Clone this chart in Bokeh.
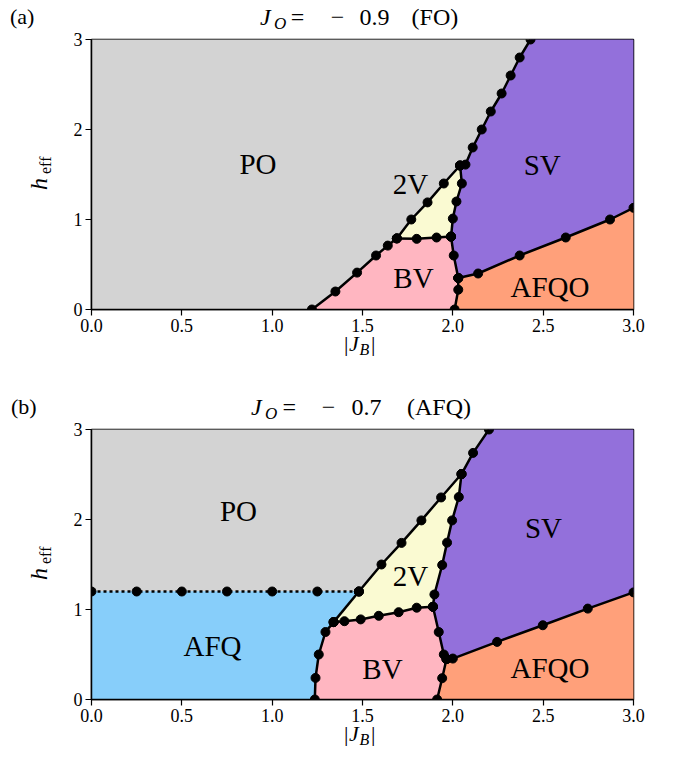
import math
from bokeh.plotting import figure
from bokeh.models import Range1d, FixedTicker, NumeralTickFormatter, Label, Div
from bokeh.layouts import column, row
from bokeh.embed import file_html
from bokeh.resources import INLINE

# ---------------- data: panel (a)  J_O = -0.9 (FO) ----------------
a_po_bv_J = [1.22, 1.35, 1.47, 1.575, 1.64, 1.69]
a_po_bv_h = [0.00, 0.20, 0.41, 0.60, 0.71, 0.79]
a_po_2v_J = [1.69, 1.77, 1.86, 1.95, 2.04]
a_po_2v_h = [0.79, 1.00, 1.19, 1.40, 1.60]
a_po_sv_J = [2.04, 2.07, 2.11, 2.16, 2.21, 2.27, 2.32, 2.37, 2.43]
a_po_sv_h = [1.60, 1.61, 1.80, 2.00, 2.20, 2.40, 2.60, 2.80, 3.00]
a_bv_2v_J = [1.69, 1.80, 1.91, 1.99]
a_bv_2v_h = [0.79, 0.785, 0.80, 0.81]
a_sv_2v_J = [2.04, 2.05, 2.02, 2.00, 1.99]
a_sv_2v_h = [1.60, 1.40, 1.20, 1.01, 0.81]
a_sv_bv_J = [1.99, 2.005, 2.03]
a_sv_bv_h = [0.81, 0.60, 0.35]
a_bv_afqo_J = [2.03, 2.03, 2.01]
a_bv_afqo_h = [0.35, 0.22, 0.00]
a_sv_afqo_J = [2.03, 2.14, 2.37, 2.625, 2.87, 3.00]
a_sv_afqo_h = [0.35, 0.40, 0.60, 0.80, 1.00, 1.13]

# ---------------- data: panel (b)  J_O = -0.7 (AFQ) ----------------
b_po_afq_J = [0.00, 0.25, 0.50, 0.75, 1.00, 1.25, 1.48]
b_po_afq_h = [1.20, 1.20, 1.20, 1.20, 1.20, 1.20, 1.20]
b_afq_2v_J = [1.48, 1.34]
b_afq_2v_h = [1.20, 0.86]
b_po_2v_J = [1.48, 1.605, 1.716, 1.826, 1.935, 2.048]
b_po_2v_h = [1.20, 1.50, 1.74, 1.99, 2.245, 2.505]
b_po_sv_J = [2.048, 2.112, 2.20]
b_po_sv_h = [2.505, 2.74, 3.00]
b_afq_bv_J = [1.34, 1.295, 1.258, 1.24, 1.236]
b_afq_bv_h = [0.86, 0.75, 0.50, 0.24, 0.00]
b_bv_2v_J = [1.34, 1.40, 1.49, 1.59, 1.70, 1.80, 1.89]
b_bv_2v_h = [0.86, 0.87, 0.89, 0.93, 0.97, 1.02, 1.03]
b_sv_2v_J = [2.048, 2.033, 1.996, 1.968, 1.941, 1.898, 1.89]
b_sv_2v_h = [2.505, 2.25, 1.99, 1.743, 1.494, 1.167, 1.03]
b_sv_bv_J = [1.89, 1.922, 1.95, 1.965]
b_sv_bv_h = [1.03, 0.75, 0.50, 0.45]
b_bv_afqo_J = [1.965, 1.941, 1.913]
b_bv_afqo_h = [0.45, 0.237, 0.00]
b_sv_afqo_J = [1.965, 2.00, 2.245, 2.498, 2.747, 3.00]
b_sv_afqo_h = [0.45, 0.455, 0.64, 0.825, 1.01, 1.19]

x_ticks = [0.0, 0.5, 1.0, 1.5, 2.0, 2.5, 3.0]
y_ticks = [0, 1, 2, 3]
J_min, J_max = 0.0, 3.0
h_min, h_max = 0.0, 3.0

colors = {"PO": "#d3d3d3", "2V": "#fafad2", "SV": "#9370db",
          "BV": "#ffb6c1", "AFQO": "#ffa07a", "AFQ": "#87cefa"}

FONT = "Liberation Serif"


def pts(J, h):
    return list(zip(J, h))


def rev(s):
    return s[::-1]


A = {k: pts(globals()["a_" + k + "_J"], globals()["a_" + k + "_h"])
     for k in ["po_bv", "po_2v", "po_sv", "bv_2v", "sv_2v", "sv_bv", "bv_afqo", "sv_afqo"]}
B = {k: pts(globals()["b_" + k + "_J"], globals()["b_" + k + "_h"])
     for k in ["po_afq", "afq_2v", "po_2v", "po_sv", "afq_bv", "bv_2v", "sv_2v", "sv_bv", "bv_afqo", "sv_afqo"]}

regions_a = {
    "PO": [(J_min, h_min)] + A["po_bv"] + A["po_2v"][1:] + A["po_sv"][1:] + [(J_min, h_max)],
    "BV": A["po_bv"] + A["bv_2v"][1:] + A["sv_bv"][1:] + A["bv_afqo"][1:],
    "2V": A["po_2v"] + A["sv_2v"][1:] + rev(A["bv_2v"])[1:],
    "SV": A["po_sv"] + [(J_max, h_max)] + rev(A["sv_afqo"]) + rev(A["sv_bv"])[1:] + rev(A["sv_2v"])[1:],
    "AFQO": rev(A["bv_afqo"]) + A["sv_afqo"][1:] + [(J_max, h_min)],
}
regions_b = {
    "PO": B["po_afq"] + B["po_2v"][1:] + B["po_sv"][1:] + [(J_min, h_max)],
    "AFQ": [(J_min, h_min)] + B["po_afq"] + B["afq_2v"][1:] + B["afq_bv"][1:],
    "2V": B["po_2v"] + B["sv_2v"][1:] + rev(B["bv_2v"])[1:] + rev(B["afq_2v"])[1:],
    "BV": rev(B["afq_bv"]) + B["bv_2v"][1:] + B["sv_bv"][1:] + B["bv_afqo"][1:],
    "SV": B["po_sv"] + [(J_max, h_max)] + rev(B["sv_afqo"]) + rev(B["sv_bv"])[1:] + rev(B["sv_2v"])[1:],
    "AFQO": rev(B["bv_afqo"]) + B["sv_afqo"][1:] + [(J_max, h_min)],
}

# ---------------- layout (page pixels) ----------------
FRAME_W, FRAME_H = 542, 270
XS = FRAME_W / (J_max - J_min)
YS = FRAME_H / (h_max - h_min)
FRAME_LEFT = 91
YLAB_W = 58
BORDER_TOP = 10
BORDER_BOTTOM = 25
TOP_H = 29                                  # title strip above panel (a)
FIG_H = BORDER_TOP + FRAME_H + BORDER_BOTTOM
MID_H = 85                                  # strip between the panels
BOT_H = 50
FULL_W = 668


def make_fig():
    p = figure(frame_width=FRAME_W, frame_height=FRAME_H, title=None,
               x_range=Range1d(J_min, J_max), y_range=Range1d(h_min, h_max),
               output_backend="svg", toolbar_location=None,
               min_border_left=FRAME_LEFT - YLAB_W, min_border_right=35,
               min_border_top=BORDER_TOP, min_border_bottom=BORDER_BOTTOM)
    p.grid.visible = False
    p.background_fill_color = "white"
    p.border_fill_color = "white"
    p.outline_line_color = "black"
    p.outline_line_width = 1.5
    for ax in (p.xaxis[0], p.yaxis[0]):
        ax.axis_line_width = 1.5
        ax.major_tick_line_width = 1.2
        ax.major_tick_out = 6
        ax.major_tick_in = 0
        ax.minor_tick_out = 0
        ax.minor_tick_in = 0
        ax.major_label_text_font = FONT
        ax.major_label_text_font_size = "18px"
        ax.major_label_text_color = "black"
        ax.axis_label = None
    p.xaxis.ticker = FixedTicker(ticks=x_ticks)
    p.xaxis.formatter = NumeralTickFormatter(format="0.0")
    p.xaxis.major_label_standoff = 3
    p.yaxis.ticker = FixedTicker(ticks=y_ticks)
    p.yaxis.major_label_standoff = 3
    return p


def add_text(p, y0, px, py, text, size):
    # px, py: page position of the text centre (cap-height centre)
    p.add_layout(Label(x=(px - FRAME_LEFT) / XS + J_min, y=(y0 - py) / YS + h_min,
                       text=text, text_font=FONT, text_font_size=f"{size}px",
                       text_align="center", text_baseline="middle", text_color="black"))


def draw_panel(p, regions, segs, dotted_keys):
    for name, poly in regions.items():
        p.patch([q[0] for q in poly], [q[1] for q in poly],
                fill_color=colors[name], line_color=colors[name], line_width=0.5)
    for k, s in segs.items():
        p.line([q[0] for q in s], [q[1] for q in s], line_color="black", line_width=2.5,
               line_dash="3 3" if k in dotted_keys else "solid")
    for k, s in segs.items():
        p.scatter([q[0] for q in s], [q[1] for q in s], size=9, marker="circle",
                  fill_color="black", line_color="black")


# ---------- HTML text strips (sub-scripted labels outside the frames) ----------
ASC = 0.8375  # baseline offset of Liberation Serif with line-height 1


def piece(y0, px, base, text, size, italic=False, x0=0):
    style = (f"position:absolute;left:{px - x0:.1f}px;top:{base - ASC * size - y0:.1f}px;"
             f"font-family:'{FONT}';font-size:{size}px;line-height:1;white-space:nowrap;"
             f"color:#000;font-style:{'italic' if italic else 'normal'};")
    return f'<span style="{style}">{text}</span>'


def rpiece(y0, base_x, start_y, text, size, italic=False, x0=0):
    style = (f"position:absolute;left:{base_x - ASC * size - x0:.1f}px;top:{start_y - y0:.1f}px;"
             f"font-family:'{FONT}';font-size:{size}px;line-height:1;white-space:nowrap;"
             f"color:#000;font-style:{'italic' if italic else 'normal'};"
             f"transform-origin:0 0;transform:rotate(-90deg);")
    return f'<span style="{style}">{text}</span>'


def strip(width, height, pieces):
    html = (f'<div style="position:relative;width:{width}px;height:{height}px;">'
            + "".join(pieces) + "</div>")
    return Div(text=html, width=width, height=height, margin=(0, 0, 0, 0))


def title_pieces(y0, base, xs, value_text, paren_text):
    xj, xo, xeq, xminus, xval, xpar = xs
    return [
        piece(y0, xj, base, "J", 24, True),
        piece(y0, xo, base + 4, "O", 17, True),
        piece(y0, xeq, base, "=", 24),
        piece(y0, xminus, base, "−", 24),
        piece(y0, xval, base, value_text, 24),
        piece(y0, xpar, base, paren_text, 24),
    ]


def xlabel_pieces(y0, base):
    return [
        piece(y0, 344, base, "|", 22),
        piece(y0, 349, base, "J", 22, True),
        piece(y0, 359.5, base + 4, "B", 16, True),
        piece(y0, 371, base, "|", 22),
    ]


def ylabel_div(y0, start_y):
    return strip(YLAB_W, FIG_H, [
        rpiece(y0, 47, start_y, "h", 24, True),
        rpiece(y0, 51, start_y - 16, "eff", 16),
    ])


# ---------------- panel (a) ----------------
p1 = make_fig()
draw_panel(p1, regions_a, A, [])
Y0a = TOP_H + BORDER_TOP + FRAME_H
add_text(p1, Y0a, 257.5, 163.5, "PO", 29)
add_text(p1, Y0a, 410, 183.5, "2V", 29)
add_text(p1, Y0a, 413, 277, "BV", 29)
add_text(p1, Y0a, 541.7, 164.5, "SV", 29)
add_text(p1, Y0a, 549.5, 286, "AFQO", 29)

# ---------------- panel (b) ----------------
p2 = make_fig()
draw_panel(p2, regions_b, B, ["po_afq"])
Yb_top = TOP_H + FIG_H + MID_H
Y0b = Yb_top + BORDER_TOP + FRAME_H
add_text(p2, Y0b, 238, 510, "PO", 29)
add_text(p2, Y0b, 410, 575.5, "2V", 29)
add_text(p2, Y0b, 382, 668.5, "BV", 29)
add_text(p2, Y0b, 543, 527.5, "SV", 29)
add_text(p2, Y0b, 212, 645.5, "AFQ", 29)
add_text(p2, Y0b, 549.5, 667, "AFQO", 29)

# strips
top_a = strip(FULL_W, TOP_H,
              [piece(0, 10, 24, "(a)", 22)]
              + title_pieces(0, 25, (260, 274, 290.7, 330.7, 359.5, 411.6), "0.9", "(FO)"))
mid_y0 = TOP_H + FIG_H
mid = strip(FULL_W, MID_H,
            xlabel_pieces(mid_y0, 351)
            + [piece(mid_y0, 11, 414, "(b)", 22)]
            + title_pieces(mid_y0, 415, (251, 265, 282.5, 321.7, 351.5, 407), "0.7", "(AFQ)"))
bot_y0 = Yb_top + FIG_H
bot = strip(FULL_W, BOT_H, xlabel_pieces(bot_y0, 741.5))

layout = column(top_a,
                row(ylabel_div(TOP_H, 190), p1),
                mid,
                row(ylabel_div(Yb_top, 580), p2),
                bot)
open("out.html", "w").write(file_html(layout, INLINE))
